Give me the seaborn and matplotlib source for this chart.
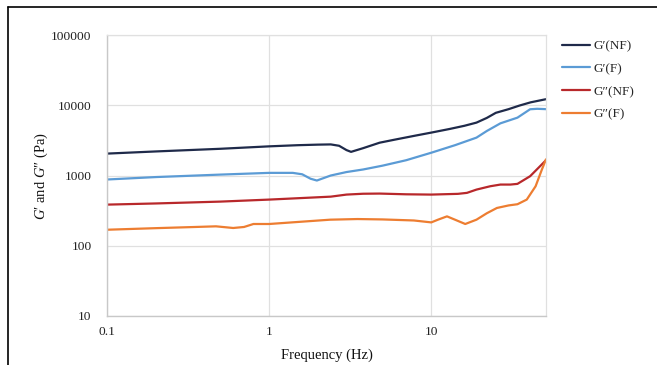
import matplotlib
matplotlib.use("Agg")
import matplotlib.pyplot as plt
import seaborn as sns
import pandas as pd
from matplotlib.lines import Line2D
from matplotlib.ticker import FixedLocator, FixedFormatter, NullLocator

# ---- data ----
x_gp_nf = [0.1, 0.2, 0.5, 1, 1.5, 2, 2.4, 2.7, 3.0, 3.2, 3.8, 4.8, 6, 8, 10, 13, 16, 19, 22, 25, 30, 35, 41, 51]
y_gp_nf = [2050, 2200, 2400, 2600, 2700, 2750, 2770, 2650, 2300, 2170, 2450, 2930, 3250, 3700, 4080, 4600, 5100, 5660, 6600, 7800, 8800, 9900, 11000, 12200]

x_gp_f = [0.1, 0.2, 0.5, 1, 1.4, 1.6, 1.8, 1.97, 2.2, 2.4, 3, 3.8, 5, 7, 10, 14, 19, 22, 26.7, 34, 40.7, 45, 51]
y_gp_f = [877, 950, 1030, 1090, 1090, 1040, 900, 848, 930, 1000, 1120, 1218, 1380, 1650, 2110, 2700, 3460, 4300, 5530, 6660, 8770, 8900, 8800]

x_gpp_nf = [0.1, 0.2, 0.5, 1, 2, 2.4, 3, 3.8, 4.8, 7, 10, 14.6, 16.6, 19, 23.1, 26.7, 30.8, 34, 40.7, 51]
y_gpp_nf = [385, 400, 425, 454, 490, 500, 535, 550, 553, 540, 535, 548, 566, 630, 703, 743, 743, 760, 977, 1650]

x_gpp_f = [0.1, 0.2, 0.35, 0.47, 0.6, 0.7, 0.8, 1, 1.5, 2.38, 3.5, 5, 7.8, 10, 11, 12.5, 14, 16.2, 19, 22, 25.4, 30, 34, 38.8, 44, 48, 51]
y_gpp_f = [169, 178, 185, 189, 179, 185, 204, 204, 218, 235, 240, 237, 229, 215, 235, 262, 235, 204, 235, 290, 345, 375, 390, 454, 703, 1200, 1700]

series_names = ["G\u2032(NF)", "G\u2032(F)", "G\u2033(NF)", "G\u2033(F)"]
series_colors = ["#1f2a4a", "#5b9bd5", "#b8282b", "#ed7d31"]
x_ticks = [0.1, 1, 10]
x_tick_labels = ["0.1", "1", "10"]
y_ticks = [10, 100, 1000, 10000, 100000]
y_tick_labels = ["10", "100", "1000", "10000", "100000"]

frames = []
for name, xs, ys in zip(series_names,
                        [x_gp_nf, x_gp_f, x_gpp_nf, x_gpp_f],
                        [y_gp_nf, y_gp_f, y_gpp_nf, y_gpp_f]):
    frames.append(pd.DataFrame({"freq": xs, "mod": ys, "series": name}))
df = pd.concat(frames, ignore_index=True)

sns.set_theme(style="white")
plt.rcParams["font.family"] = ["Liberation Serif", "DejaVu Serif"]
plt.rcParams["mathtext.fontset"] = "custom"
plt.rcParams["mathtext.rm"] = "Liberation Serif"
plt.rcParams["mathtext.it"] = "Liberation Serif:italic"

fig = plt.figure(figsize=(6.57, 3.65), dpi=100)
ax = fig.add_axes([107/657, 1-316/365, (546-107)/657, (316-35)/365])

sns.lineplot(data=df, x="freq", y="mod", hue="series", hue_order=series_names,
             palette=series_colors, estimator=None, sort=False, lw=1.6, ax=ax,
             legend=False)

ax.set_xscale("log")
ax.set_yscale("log")
ax.set_xlim(0.1, 51)
ax.set_ylim(10, 100000)
ax.xaxis.set_major_locator(FixedLocator(x_ticks))
ax.xaxis.set_major_formatter(FixedFormatter(x_tick_labels))
ax.xaxis.set_minor_locator(NullLocator())
ax.yaxis.set_major_locator(FixedLocator(y_ticks))
ax.yaxis.set_major_formatter(FixedFormatter(y_tick_labels))
ax.yaxis.set_minor_locator(NullLocator())
ax.tick_params(axis="both", length=0, labelsize=9.7, colors="#222222")
ax.tick_params(axis="y", pad=11)
ax.tick_params(axis="x", pad=7)
ax.grid(True, color="#e0e0e0", lw=0.9)
ax.set_axisbelow(True)
for side in ["top", "right"]:
    ax.spines[side].set_color("#e0e0e0")
    ax.spines[side].set_linewidth(0.9)
for side in ["left", "bottom"]:
    ax.spines[side].set_color("#c8c8c8")
    ax.spines[side].set_linewidth(1.0)

ax.set_xlabel("Frequency (Hz)", fontsize=10.5, color="#111111", labelpad=8)
ax.set_ylabel(r"$\mathit{G}$" + "\u2032 and " + r"$\mathit{G}$" + "\u2033 (Pa)",
              fontsize=10.5, color="#111111", labelpad=1)

handles = [Line2D([0], [0], color=c, lw=1.6) for c in series_colors]
fig.legend(handles, series_names, loc="upper left",
           bbox_to_anchor=(562/657, 1-40/365), frameon=False, borderpad=0,
           borderaxespad=0, handlelength=2.1, handletextpad=0.25,
           labelspacing=0.8, fontsize=9.5)

# outer frame lines (top and left)
fig.add_artist(Line2D([8/657, 1], [1-7/365, 1-7/365], color="black", lw=1.2,
                      transform=fig.transFigure))
fig.add_artist(Line2D([8/657, 8/657], [0, 1-7/365], color="black", lw=1.2,
                      transform=fig.transFigure))

fig.savefig("out.png", dpi=100)
